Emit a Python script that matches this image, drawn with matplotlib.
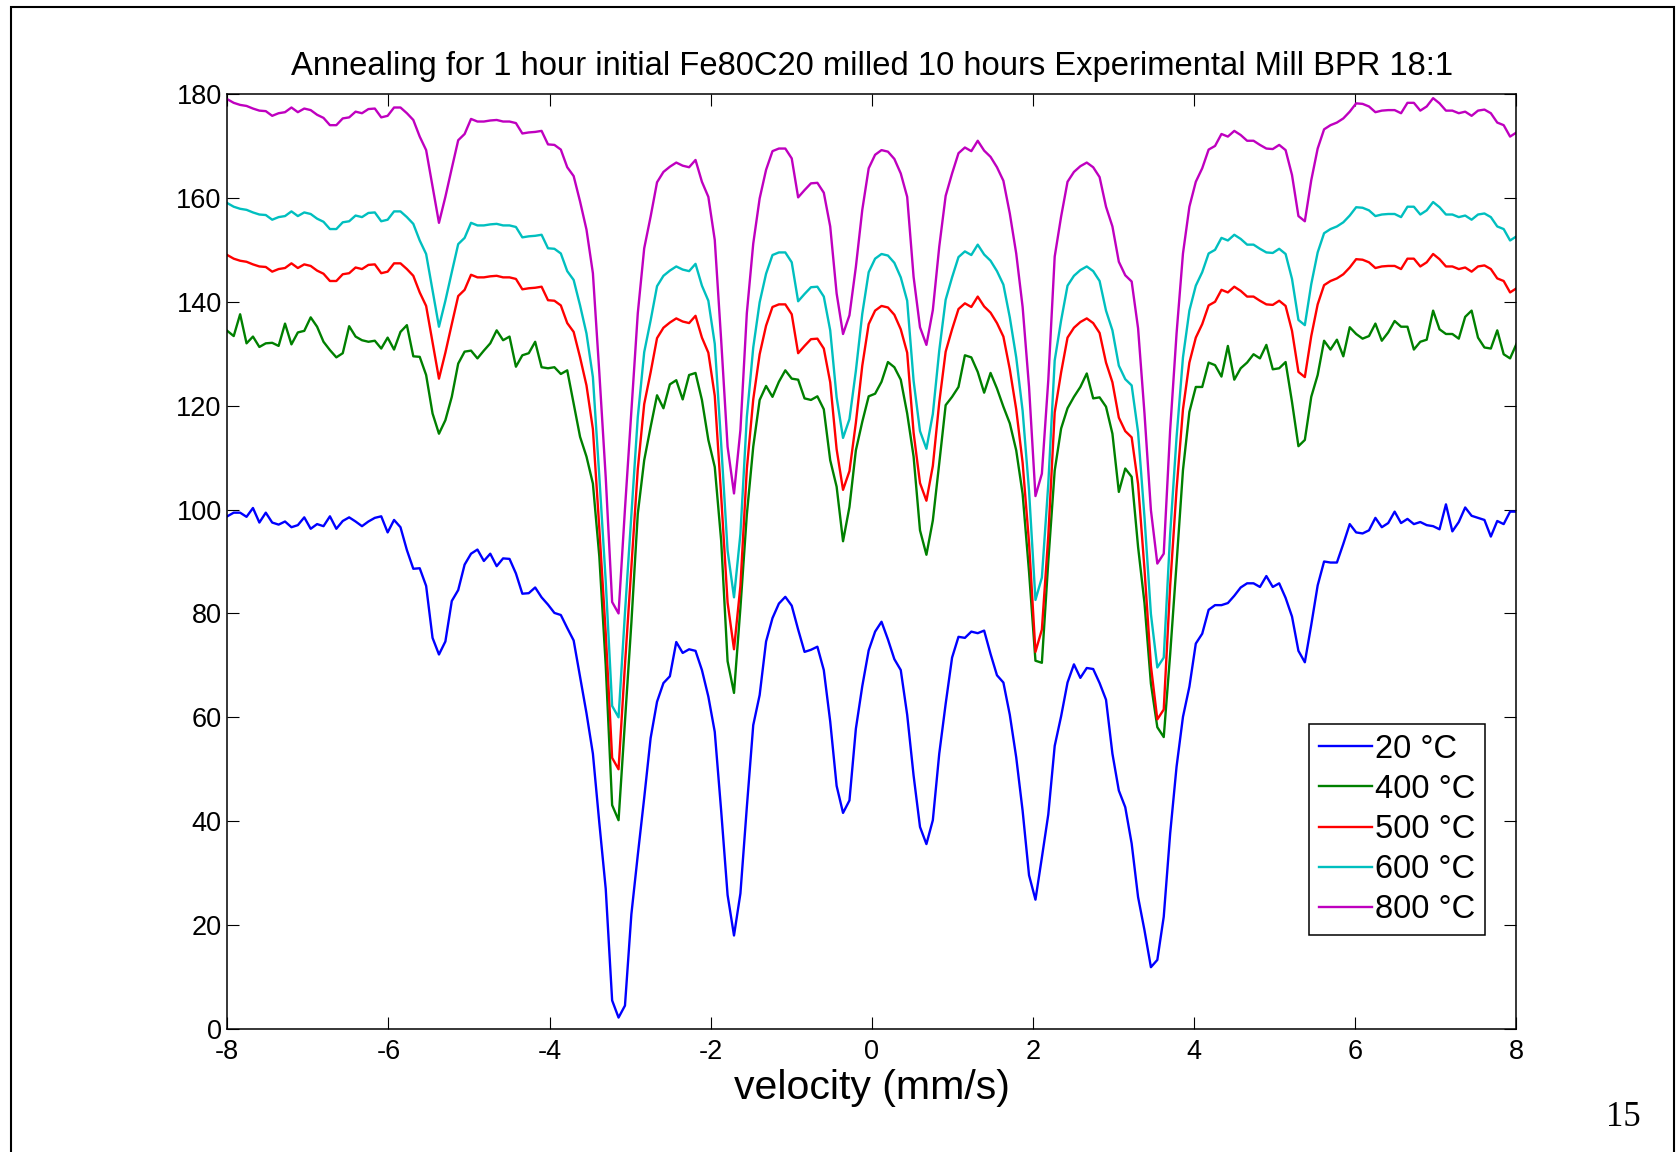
import numpy as np
import matplotlib
matplotlib.use("Agg")
import matplotlib.pyplot as plt
from matplotlib.patches import Rectangle

# ---------------- data ----------------
velocity_min = -8.0
velocity_max = 8.0
n_channels = 202

temp_20 = [98.7, 99.4, 99.4, 98.6, 100.3, 97.5, 99.4, 97.5, 97.1, 97.7,
           96.6, 97.0, 98.5, 96.3, 97.2, 96.8, 98.7, 96.3, 97.8, 98.5,
           97.7, 96.8, 97.7, 98.4, 98.7, 95.6, 98.0, 96.6, 92.2, 88.6,
           88.7, 85.3, 75.3, 72.1, 74.6, 82.4, 84.5, 89.4, 91.5, 92.3,
           90.1, 91.5, 89.1, 90.6, 90.5, 87.7, 83.8, 83.9, 85.0, 83.1,
           81.7, 80.1, 79.7, 77.2, 74.8, 67.8, 60.8, 53.0, 39.7, 27.0,
           5.5, 2.2, 4.5, 22.1, 33.5, 44.5, 56.0, 63.0, 66.6, 67.9,
           74.5, 72.4, 73.1, 72.8, 69.1, 64.0, 57.2, 42.0, 25.8, 18.0,
           26.1, 42.7, 58.5, 64.3, 74.6, 79.1, 81.9, 83.2, 81.5, 76.9,
           72.6, 73.0, 73.6, 69.1, 59.2, 46.8, 41.6, 44.0, 57.8, 66.0,
           72.9, 76.5, 78.4, 75.0, 71.2, 69.1, 60.5, 48.8, 38.9, 35.6,
           40.2, 53.0, 62.6, 71.5, 75.5, 75.3, 76.5, 76.2, 76.7, 72.2,
           68.1, 66.7, 60.5, 52.3, 42.0, 29.6, 24.9, 33.0, 41.3, 54.5,
           60.2, 66.7, 70.2, 67.6, 69.5, 69.3, 66.6, 63.4, 53.0, 45.9,
           42.7, 35.7, 25.4, 19.0, 11.9, 13.3, 21.6, 37.6, 50.5, 60.1,
           65.9, 74.2, 76.1, 80.7, 81.6, 81.6, 82.0, 83.4, 85.0, 85.8,
           85.8, 85.1, 87.2, 85.1, 85.8, 83.0, 79.4, 72.8, 70.6, 77.8,
           85.4, 90.0, 89.8, 89.8, 93.4, 97.2, 95.6, 95.4, 96.0, 98.4,
           96.6, 97.4, 99.6, 97.4, 98.2, 97.2, 97.6, 97.0, 96.8, 96.2,
           101.0, 95.8, 97.6, 100.4, 98.8, 98.4, 98.0, 94.8, 97.8, 97.2,
           99.6, 99.6]

temp_400 = [134.4, 133.4, 137.6, 132.0, 133.3, 131.3, 132.0, 132.1, 131.5, 135.8,
            131.8, 134.1, 134.4, 137.0, 135.2, 132.3, 130.7, 129.3, 130.1, 135.3,
            133.3, 132.6, 132.3, 132.5, 131.0, 133.1, 130.8, 134.2, 135.5, 129.5,
            129.4, 125.9, 118.5, 114.6, 117.2, 121.7, 128.1, 130.4, 130.6, 129.1,
            130.6, 132.0, 134.5, 132.6, 133.3, 127.5, 129.7, 130.1, 132.3, 127.4,
            127.2, 127.4, 126.1, 126.8, 120.4, 114.0, 110.2, 105.0, 91.0, 70.0,
            43.1, 40.2, 59.2, 78.2, 99.2, 109.5, 115.9, 122.0, 119.5, 124.1,
            124.9, 121.2, 125.9, 126.3, 121.1, 113.4, 108.2, 94.0, 70.8, 64.7,
            81.1, 99.0, 112.1, 121.1, 123.8, 121.7, 124.6, 126.8, 125.2, 125.0,
            121.4, 121.1, 121.8, 119.3, 109.5, 104.4, 93.9, 100.5, 111.4, 116.9,
            121.8, 122.3, 124.6, 128.4, 127.4, 125.0, 118.5, 110.2, 96.0, 91.3,
            97.9, 108.9, 120.1, 121.7, 123.6, 129.7, 129.3, 126.5, 122.5, 126.3,
            123.3, 119.8, 116.6, 111.4, 103.0, 88.0, 70.9, 70.5, 90.0, 107.5,
            115.6, 119.5, 121.7, 123.6, 126.2, 121.4, 121.6, 119.8, 114.6, 103.4,
            107.9, 106.3, 92.8, 82.0, 66.5, 58.1, 56.2, 72.1, 89.6, 107.6,
            118.8, 123.6, 123.6, 128.3, 127.8, 125.6, 131.5, 125.0, 127.2, 128.3,
            129.9, 129.1, 131.7, 127.0, 127.2, 128.4, 120.7, 112.2, 113.4, 121.7,
            125.9, 132.5, 130.8, 132.7, 129.5, 135.1, 133.8, 132.9, 133.4, 135.8,
            132.5, 134.1, 136.3, 135.2, 135.2, 130.8, 132.3, 132.7, 138.3, 134.7,
            133.8, 133.8, 132.9, 137.1, 138.3, 133.1, 131.2, 131.0, 134.5, 129.9,
            129.1, 131.9]

temp_500 = [149.0, 148.3, 147.9, 147.7, 147.2, 146.8, 146.7, 145.8, 146.3, 146.5,
            147.4, 146.5, 147.2, 146.9, 146.0, 145.4, 144.0, 144.0, 145.3, 145.5,
            146.6, 146.3, 147.1, 147.2, 145.5, 145.8, 147.4, 147.4, 146.3, 145.0,
            141.8, 139.2, 132.2, 125.2, 130.2, 135.7, 141.1, 142.3, 145.2, 144.7,
            144.7, 144.9, 145.0, 144.7, 144.7, 144.4, 142.4, 142.6, 142.7, 142.9,
            140.3, 140.2, 139.3, 135.9, 134.2, 129.3, 123.9, 115.5, 96.4, 76.2,
            52.2, 50.0, 70.1, 88.9, 107.8, 120.3, 126.4, 133.0, 135.0, 136.0,
            136.8, 136.2, 135.9, 137.3, 133.1, 130.2, 121.9, 102.6, 82.1, 73.1,
            85.3, 107.8, 121.2, 129.9, 135.4, 139.0, 139.5, 139.5, 137.6, 130.1,
            131.5, 132.8, 132.9, 131.0, 124.5, 111.6, 103.8, 107.4, 116.7, 127.7,
            135.7, 138.3, 139.2, 138.9, 137.5, 134.7, 130.2, 114.8, 105.1, 101.7,
            108.4, 120.6, 130.4, 134.7, 138.6, 139.7, 139.0, 141.0, 139.1, 137.9,
            135.9, 133.3, 127.0, 119.3, 109.0, 93.6, 72.6, 76.9, 94.9, 118.7,
            126.4, 133.1, 135.0, 136.1, 136.8, 135.9, 134.0, 128.3, 124.5, 117.7,
            115.1, 113.9, 104.9, 88.5, 69.9, 59.6, 61.5, 85.3, 103.9, 119.3,
            128.3, 133.1, 135.7, 139.3, 140.0, 142.3, 141.8, 142.9, 142.1, 141.0,
            141.0, 140.2, 139.5, 139.4, 140.2, 139.2, 134.4, 126.5, 125.5, 133.4,
            139.5, 143.2, 144.0, 144.5, 145.3, 146.6, 148.2, 148.1, 147.6, 146.5,
            146.8, 146.9, 146.9, 146.3, 148.3, 148.3, 146.8, 147.6, 149.2, 148.2,
            146.8, 146.8, 146.3, 146.6, 145.8, 146.8, 147.0, 146.3, 144.5, 144.0,
            141.8, 142.6]

temp_600 = [159.0, 158.3, 157.9, 157.7, 157.2, 156.8, 156.7, 155.8, 156.3, 156.5,
            157.4, 156.5, 157.2, 156.9, 156.0, 155.4, 154.0, 154.0, 155.3, 155.5,
            156.6, 156.3, 157.1, 157.2, 155.5, 155.8, 157.4, 157.4, 156.3, 155.0,
            151.8, 149.2, 142.2, 135.2, 140.2, 145.7, 151.1, 152.3, 155.2, 154.7,
            154.7, 154.9, 155.0, 154.7, 154.7, 154.4, 152.4, 152.6, 152.7, 152.9,
            150.3, 150.2, 149.3, 145.9, 144.2, 139.3, 133.9, 125.5, 106.4, 86.2,
            62.2, 60.0, 80.1, 98.9, 117.8, 130.3, 136.4, 143.0, 145.0, 146.0,
            146.8, 146.2, 145.9, 147.3, 143.1, 140.2, 131.9, 112.6, 92.1, 83.1,
            95.3, 117.8, 131.2, 139.9, 145.4, 149.0, 149.5, 149.5, 147.6, 140.1,
            141.5, 142.8, 142.9, 141.0, 134.5, 121.6, 113.8, 117.4, 126.7, 137.7,
            145.7, 148.3, 149.2, 148.9, 147.5, 144.7, 140.2, 124.8, 115.1, 111.7,
            118.4, 130.6, 140.4, 144.7, 148.6, 149.7, 149.0, 151.0, 149.1, 147.9,
            145.9, 143.3, 137.0, 129.3, 119.0, 103.6, 82.6, 86.9, 104.9, 128.7,
            136.4, 143.1, 145.0, 146.1, 146.8, 145.9, 144.0, 138.3, 134.5, 127.7,
            125.1, 123.9, 114.9, 98.5, 79.9, 69.6, 71.5, 95.3, 113.9, 129.3,
            138.3, 143.1, 145.7, 149.3, 150.0, 152.3, 151.8, 152.9, 152.1, 151.0,
            151.0, 150.2, 149.5, 149.4, 150.2, 149.2, 144.4, 136.5, 135.5, 143.4,
            149.5, 153.2, 154.0, 154.5, 155.3, 156.6, 158.2, 158.1, 157.6, 156.5,
            156.8, 156.9, 156.9, 156.3, 158.3, 158.3, 156.8, 157.6, 159.2, 158.2,
            156.8, 156.8, 156.3, 156.6, 155.8, 156.8, 157.0, 156.3, 154.5, 154.0,
            151.8, 152.6]

temp_800 = [179.0, 178.3, 177.9, 177.7, 177.2, 176.8, 176.7, 175.8, 176.3, 176.5,
            177.4, 176.5, 177.2, 176.9, 176.0, 175.4, 174.0, 174.0, 175.3, 175.5,
            176.6, 176.3, 177.1, 177.2, 175.5, 175.8, 177.4, 177.4, 176.3, 175.0,
            171.8, 169.2, 162.2, 155.2, 160.2, 165.7, 171.1, 172.3, 175.2, 174.7,
            174.7, 174.9, 175.0, 174.7, 174.7, 174.4, 172.4, 172.6, 172.7, 172.9,
            170.3, 170.2, 169.3, 165.9, 164.2, 159.3, 153.9, 145.5, 126.4, 106.2,
            82.2, 80.0, 100.1, 118.9, 137.8, 150.3, 156.4, 163.0, 165.0, 166.0,
            166.8, 166.2, 165.9, 167.3, 163.1, 160.2, 151.9, 132.6, 112.1, 103.1,
            115.3, 137.8, 151.2, 159.9, 165.4, 169.0, 169.5, 169.5, 167.6, 160.1,
            161.5, 162.8, 162.9, 161.0, 154.5, 141.6, 133.8, 137.4, 146.7, 157.7,
            165.7, 168.3, 169.2, 168.9, 167.5, 164.7, 160.2, 144.8, 135.1, 131.7,
            138.4, 150.6, 160.4, 164.7, 168.6, 169.7, 169.0, 171.0, 169.1, 167.9,
            165.9, 163.3, 157.0, 149.3, 139.0, 123.6, 102.6, 106.9, 124.9, 148.7,
            156.4, 163.1, 165.0, 166.1, 166.8, 165.9, 164.0, 158.3, 154.5, 147.7,
            145.1, 143.9, 134.9, 118.5, 99.9, 89.6, 91.5, 115.3, 133.9, 149.3,
            158.3, 163.1, 165.7, 169.3, 170.0, 172.3, 171.8, 172.9, 172.1, 171.0,
            171.0, 170.2, 169.5, 169.4, 170.2, 169.2, 164.4, 156.5, 155.5, 163.4,
            169.5, 173.2, 174.0, 174.5, 175.3, 176.6, 178.2, 178.1, 177.6, 176.5,
            176.8, 176.9, 176.9, 176.3, 178.3, 178.3, 176.8, 177.6, 179.2, 178.2,
            176.8, 176.8, 176.3, 176.6, 175.8, 176.8, 177.0, 176.3, 174.5, 174.0,
            171.8, 172.6]

series_labels = ['20 °C', '400 °C', '500 °C', '600 °C', '800 °C']
series_colors = ['#0000ff', '#008000', '#ff0000', '#00bfbf', '#bf00bf']
x_ticks = [-8, -6, -4, -2, 0, 2, 4, 6, 8]
y_ticks = [0, 20, 40, 60, 80, 100, 120, 140, 160, 180]

title_text = 'Annealing for 1 hour initial Fe80C20 milled 10 hours Experimental Mill BPR 18:1'
xlabel_text = 'velocity (mm/s)'
page_number = '15'

# ---------------- plot ----------------
plt.rcParams['font.family'] = ['Liberation Sans', 'DejaVu Sans']
plt.rcParams['axes.unicode_minus'] = False

W, H = 1681, 1152
fig = plt.figure(figsize=(W / 100, H / 100), dpi=100)
fig.patch.set_facecolor('white')

ax_left, ax_right, ax_top, ax_bottom = 227.3, 1516.5, 94.0, 1029.0
ax = fig.add_axes([ax_left / W, 1 - ax_bottom / H,
                   (ax_right - ax_left) / W, (ax_bottom - ax_top) / H])

velocity = np.linspace(velocity_min, velocity_max, n_channels)
all_series = [temp_20, temp_400, temp_500, temp_600, temp_800]
for vals, lab, col in zip(all_series, series_labels, series_colors):
    ax.plot(velocity, vals, color=col, lw=1.7, label=lab)

ax.set_xlim(-8, 8)
ax.set_ylim(0, 180)
ax.set_xticks(x_ticks)
ax.set_yticks(y_ticks)
ax.set_xticklabels([str(t) for t in x_ticks])
ax.set_yticklabels([str(t) for t in y_ticks])
ax.tick_params(direction='in', length=8.5, width=0.8, top=True, right=True,
               labelsize=19.5, colors='black')
ax.tick_params(axis='x', pad=7.5)
ax.tick_params(axis='y', pad=4)
for sp in ax.spines.values():
    sp.set_linewidth(1.1)
    sp.set_color('black')

ax.set_title(title_text, fontsize=23.6, pad=13.5)
ax.set_xlabel(xlabel_text, fontsize=29.5, labelpad=2.5)

leg = ax.legend(loc='lower right', bbox_to_anchor=(0.9756, 0.1005),
                borderaxespad=0, fontsize=23.5, handlelength=1.62,
                handletextpad=0.1, labelspacing=0.28, borderpad=0.3,
                fancybox=False, framealpha=1, edgecolor='black')
leg.get_frame().set_linewidth(1.1)

# slide frame and page number
frame = Rectangle((11 / W, -0.05), (1674 - 11) / W, (1 - 7 / H) + 0.05,
                  transform=fig.transFigure, fill=False, lw=1.5,
                  edgecolor='black', clip_on=False)
fig.add_artist(frame)
fig.text(1623 / W, 1 - 1118 / H, page_number, ha='center', va='center',
         family=['Liberation Serif', 'DejaVu Serif'], fontsize=25)

fig.savefig('out.png', dpi=100, facecolor='white')
